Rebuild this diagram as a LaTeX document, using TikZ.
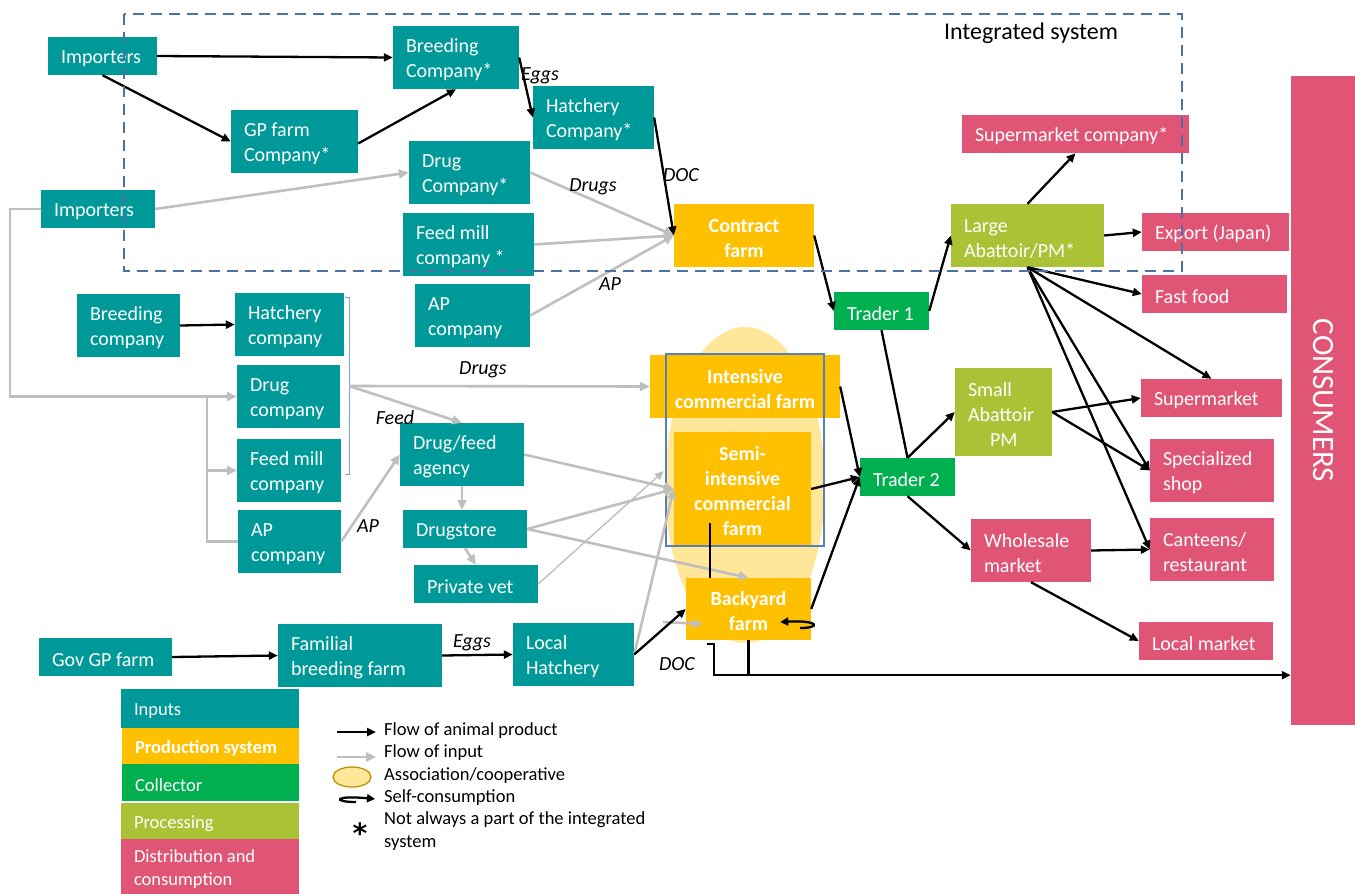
\documentclass[tikz,border=0pt]{standalone}
\usepackage{fontspec}
\setmainfont{Carlito}
\newfontfamily\djvfont{DejaVu Sans}
\usetikzlibrary{arrows.meta,shapes.geometric,calc}
\definecolor{cteal}{HTML}{009999}
\definecolor{cyel}{HTML}{FFC000}
\definecolor{cgrn}{HTML}{00B050}
\definecolor{coli}{HTML}{AAC236}
\definecolor{cpink}{HTML}{E05575}
\definecolor{cell}{HTML}{FFE699}
\definecolor{cgray}{HTML}{BFBFBF}
\definecolor{cdash}{HTML}{4A72A2}
\definecolor{cframe}{HTML}{5580BC}
\definecolor{cbr}{HTML}{7AA6E0}
\definecolor{cgold}{HTML}{BF9000}
\newcommand{\bxfont}{\fontsize{20}{25}\selectfont}
\newcommand{\lgfont}{\fontsize{18.5}{23}\selectfont}
\newcommand{\itfont}{\fontsize{20}{24}\selectfont\itshape}
\newcommand{\mybox}[7]{%
  \pgfmathsetmacro{\BXcx}{(#3+#5)/2}%
  \pgfmathsetmacro{\BXcy}{(#4+#6)/2}%
  \pgfmathsetmacro{\BXw}{#5-#3}%
  \pgfmathsetmacro{\BXh}{#6-#4}%
  \pgfmathsetmacro{\BXt}{#5-#3-26}%
  \node[#1, minimum width=\BXw pt, minimum height=\BXh pt, text width=\BXt pt] (#2) at (\BXcx,\BXcy) {\spaceskip=0.226em\relax\xspaceskip=0.226em\relax\rule{0pt}{0.95em}#7};%
}
\begin{document}
\begin{tikzpicture}[x=1pt,y=-1pt,
  base/.style={rectangle, inner sep=0pt, text=white, font=\bxfont, align=left},
  tb/.style={base, fill=cteal},
  yb/.style={base, fill=cyel, font=\bxfont\bfseries, align=center},
  gb/.style={base, fill=cgrn},
  ob/.style={base, fill=coli},
  pb/.style={base, fill=cpink},
  lg/.style={base, font=\lgfont},
  blk/.style={draw=black, line width=2.3pt, -{Triangle[length=9pt,width=8pt]}},
  blkl/.style={draw=black, line width=2.3pt},
  gry/.style={draw=cgray, line width=2.6pt, -{Triangle[length=10pt,width=9pt]}},
  gryl/.style={draw=cgray, line width=2.6pt},
  gryt/.style={draw=cgray, line width=1.4pt, -{Triangle[length=9pt,width=8pt]}},
  lbl/.style={font=\itfont, text=black, inner sep=0pt},
  lgt/.style={anchor=west, inner sep=0pt, font=\lgfont, text=black},
]
\useasboundingbox (0,0) rectangle (1355,894);

% association ellipse (behind)
\node[ellipse, fill=cell, minimum width=160pt, minimum height=316pt, inner sep=0pt] (assoc) at (745,485) {};

% ---- inputs (teal)
\mybox{tb}{imp1}{48}{37}{157}{75}{Importers}
\mybox{tb}{breed}{393}{26}{519}{89}{Breeding\\Company*}
\mybox{tb}{gp}{231}{110}{358}{173}{GP~farm\\Company*}
\mybox{tb}{hatch}{533}{86}{654}{149}{Hatchery\\Company*}
\mybox{tb}{drugco}{409}{141}{530}{204}{Drug\\Company*}
\mybox{tb}{feedco}{403}{213}{534}{276}{Feed~mill\\company~*}
\mybox{tb}{apco}{415}{284}{530}{347}{AP\\company}
\mybox{tb}{imp2}{41}{190}{155}{228}{Importers}
\mybox{tb}{breed2}{77}{294}{180}{357}{Breeding\\company}
\mybox{tb}{hatch2}{235}{293}{344}{356}{Hatchery\\company}
\mybox{tb}{drug2}{237}{365}{340}{428}{Drug\\company}
\mybox{tb}{feed2}{237}{439}{341}{502}{Feed~mill\\company}
\mybox{tb}{ap2}{238}{510}{341}{573}{AP\\company}
\mybox{tb}{dfa}{400}{423}{524}{486}{Drug/feed\\agency}
\mybox{tb}{ds}{403}{510}{527}{548}{Drugstore}
\mybox{tb}{pv}{414}{565}{538}{603}{Private~vet}
\mybox{tb}{gov}{39}{638}{172}{676}{Gov~GP~farm}
\mybox{tb}{fam}{278}{624}{442}{687}{Familial\\breeding~farm}
\mybox{tb}{lh}{513}{623}{634}{686}{Local\\Hatchery}

% ---- production (yellow)
\mybox{yb}{contract}{674}{204}{814}{267}{Contract\\farm}
\mybox{yb}{int}{650}{355}{840}{418}{Intensive\\commercial~farm}
\mybox{yb}{semi}{674}{432}{811}{546}{Semi-\\intensive\\commercial\\farm}
\mybox{yb}{by}{686}{578}{811}{640}{Backyard\\farm}
\node[draw=cframe, line width=1.2pt, minimum width=158pt, minimum height=192pt, inner sep=0pt] (frame) at (745,450) {};

% ---- collectors / processing / distribution
\mybox{gb}{tr1}{834}{292}{929}{330}{Trader~1}
\mybox{gb}{tr2}{860}{458}{955}{496}{Trader~2}
\mybox{ob}{la}{951}{204}{1104}{267}{Large\\Abattoir/PM*}
\mybox{ob}{sa}{955}{368}{1052}{456}{Small\\Abattoir\\\hspace*{22pt}PM}
\mybox{pb}{smc}{962}{115}{1189}{153}{Supermarket~company*}
\mybox{pb}{exp}{1142}{213}{1289}{251}{Export~(Japan)}
\mybox{pb}{ff}{1142}{275}{1287}{313}{Fast~food}
\mybox{pb}{sm}{1141}{379}{1282}{417}{Supermarket}
\mybox{pb}{spec}{1150}{439}{1274}{502}{Specialized\\shop}
\mybox{pb}{cant}{1150}{518}{1274}{581}{Canteens/\\restaurant}
\mybox{pb}{ws}{971}{519}{1091}{582}{Wholesale\\market}
\mybox{pb}{lm}{1139}{622}{1273}{660}{Local~market}
\node[rectangle, fill=cpink, rotate=-90, minimum width=649pt, minimum height=64pt, inner sep=0pt, text=white, font=\fontsize{31}{31}\selectfont] (cons) at (1323,400.5) {CONSUMERS};

% ---- bracket
\draw[draw=cbr, line width=0.9pt] (345,297) -- (349,297) -- (349,474) -- (345,474);
\coordinate (br) at (349,386);

% ---- gray input flows
\draw[gry] (imp2.west) -- ++(-31,0) |- (drug2.west);
\coordinate (tk) at ($(drug2.west)+(-30,0)$);
\draw[gryl] (tk) |- (ap2.west);
\draw[gry] (tk |- feed2.west) -- (feed2.west);
\draw[gry] (imp2.east) -- (drugco.west);
\draw[gry] (drugco.east) -- (contract.west);
\draw[gry] (feedco.east) -- (contract.west);
\draw[gry] (apco.east) -- (contract.west);
\draw[gry] (br) -- (int.west);
\draw[gry] (br) -- (dfa.north);
\draw[gry] (ap2.east) -- (dfa.west);
\draw[gry] (dfa.south) -- (dfa.south |- ds.north);
\draw[gry] (ds.south) -- (pv.north);
\draw[gry] (dfa.east) -- (semi.west);
\draw[gry] (ds.east) -- (semi.west);
\draw[gry] (ds.east) -- (by.north);
\draw[gryt] (pv.east) -- ($(semi.west)+(-10,-18)$);
\draw[gry] (lh.east) -- (semi.west);
\draw[gry] ($(by.west)+(-23,13)$) -- ($(by.west)+(17,15)$);

% ---- black product flows
\draw[blk] (imp1.east) -- (breed.west);
\draw[blk] (imp1.south) -- (gp.west);
\draw[blk] ($(gp.east)+(0,2)$) -- (breed.south);
\draw[blk] (breed.east) -- (hatch.west);
\draw[blk] (hatch.east) -- (contract.west);
\draw[blk] (contract.east) -- (tr1.west);
\draw[blk] (tr1.east) -- (la.west);
\draw[blk] (la.north) -- (smc.south);
\draw[blk] (la.east) -- (exp.west);
\draw[blk] (la.south) -- (ff.west);
\draw[blk] (la.south) -- (sm.north);
\draw[blk] (la.south) -- (spec.west);
\draw[blk] (la.south) -- (cant.west);
\draw[blk] (sa.east) -- (sm.west);
\draw[blk] (sa.east) -- (spec.west);
\draw[blkl] (tr1.south) -- (tr2.north);
\draw[blk] (tr2.north) -- (sa.west);
\draw[blk] (tr2.south) -- (ws.west);
\draw[blk] (ws.east) -- (cant.west);
\draw[blk] (ws.south) -- (lm.west);
\draw[blk] (int.east) -- (tr2.west);
\draw[blk] (semi.east) -- (tr2.west);
\draw[blk] (by.east) -- (tr2.west);
\draw[blk] (breed2.east) -- (hatch2.west);
\draw[blk] (gov.east) -- (fam.west);
\draw[blk] (fam.east) -- (lh.west);
\draw[blk] (lh.east) -- (by.west);
\draw[blkl] ($(by.north west)+(24,0)$) -- ($(by.north west)+(24,-55)$);
\coordinate (bj) at ($(by.south west)+(28,35)$);
\draw[blk] ($(by.south west)+(21,4)$) -- ($(by.south west)+(28,4)$) -- (bj) -- (bj -| cons.south);
\draw[blkl] (by.south) -- (by.south |- bj);
\draw[line width=2.3pt, -{Triangle[length=8pt,width=8pt]}] ($(by.east)+(-11,19)$) .. controls ($(by.east)+(10,19)$) and ($(by.east)+(8,11)$) .. ($(by.east)+(-31,13)$);

% ---- flow labels
\node[lbl] (l1) at (540,76) {Eggs};
\node[lbl] (l2) at (681,175) {DOC};
\node[lbl] (l3) at (593,187) {Drugs};
\node[lbl] (l4) at (610,284) {AP};
\node[lbl] (l5) at (483,370) {Drugs};
\node[lbl] (l6) at (395,418) {Feed};
\node[lbl] (l7) at (368,526) {AP};
\node[lbl] (l8) at (472,643) {Eggs};
\node[lbl] (l9) at (677,664) {DOC};

% ---- integrated system
\draw[draw=cdash, line width=2.3pt, dash pattern=on 11pt off 7pt] (124,14) rectangle (1182,271);
\node[font=\fontsize{24}{28}\selectfont, inner sep=0pt] (intl) at (1031,33) {Integrated system};

% ---- legend
\mybox{lg, fill=cteal}{lin}{121}{689}{299}{728}{Inputs}
\mybox{lg, fill=cyel, font=\lgfont\bfseries}{lprod}{122}{728}{299}{764}{Production~system}
\mybox{lg, fill=cgrn}{lcol}{122}{764}{299}{801}{Collector}
\mybox{lg, fill=coli}{lproc}{121}{803}{299}{839}{Processing}
\mybox{lg, fill=cpink}{ldist}{121}{839}{299}{894}{Distribution and\\consumption}

\node[lgt] (k1) at (384,731) {Flow of animal product};
\node[lgt] (k2) at (384,753) {Flow of input};
\node[lgt] (k3) at (384,776) {Association/cooperative};
\node[lgt] (k4) at (384,798) {Self-consumption};
\node[lgt, anchor=north west, align=left] (k5) at (384,811) {Not always a part of the integrated\\system};
\draw[blk] ($(k1.west)+(-47,1)$) -- ($(k1.west)+(-8,1)$);
\draw[gry] ($(k2.west)+(-47,4)$) -- ($(k2.west)+(-8,4)$);
\node[ellipse, fill=cell, draw=cgold, line width=1.3pt, minimum width=38pt, minimum height=20pt, inner sep=0pt] (kell) at ($(k3.west)+(-32,1)$) {};
\draw[line width=2.3pt, -{Triangle[length=8pt,width=8pt]}] ($(k4.west)+(-28,4)$) .. controls ($(k4.west)+(-52,4)$) and ($(k4.west)+(-50,-3)$) .. ($(k4.west)+(-9,1)$);
\node[font=\fontsize{28}{28}\selectfont\djvfont\bfseries, text=black, inner sep=0pt] (kast) at (360,833) {*};
\end{tikzpicture}
\end{document}
